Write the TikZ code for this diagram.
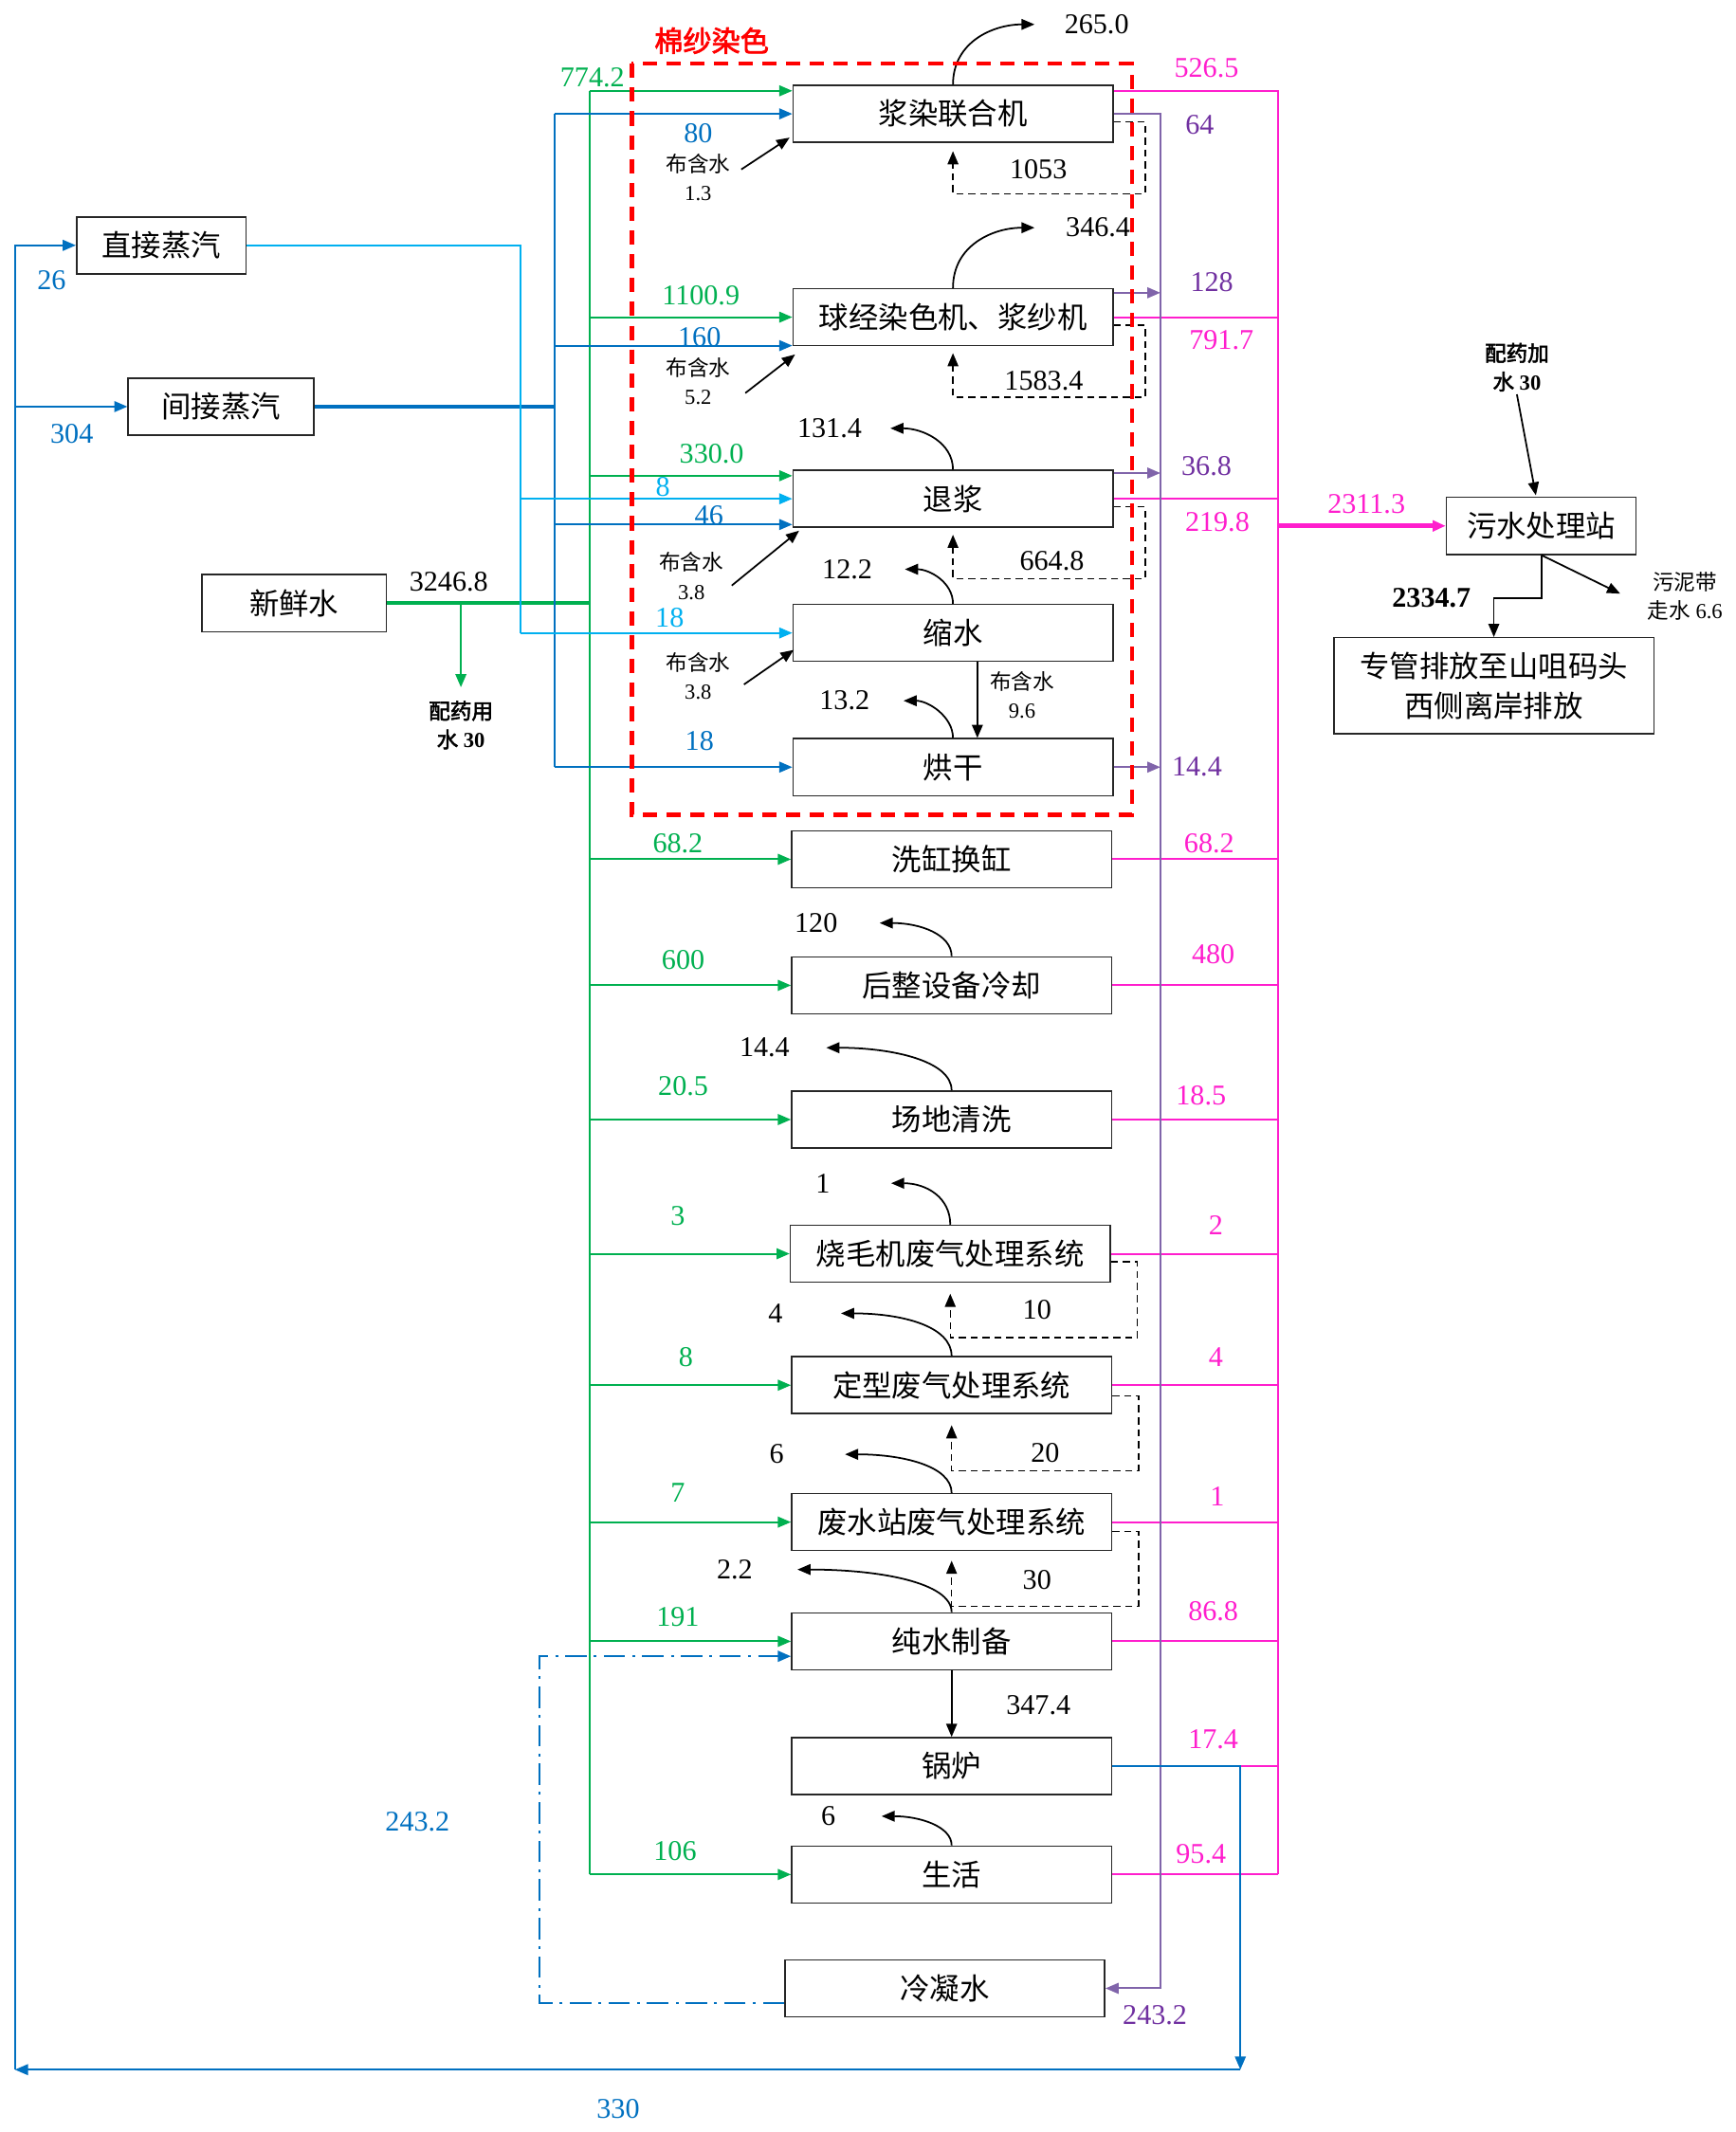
\documentclass[tikz,border=0pt]{standalone}
\usepackage{fontspec}
\setmainfont{Liberation Serif}
\newfontfamily\cjk[AutoFakeBold=2.5]{Noto Sans CJK SC}
\usetikzlibrary{arrows.meta,calc}
\definecolor{cGreen}{RGB}{0,176,80}
\definecolor{cBlue}{RGB}{0,112,192}
\definecolor{cCyan}{RGB}{0,176,240}
\definecolor{cPink}{RGB}{255,30,205}
\definecolor{cPurple}{RGB}{128,100,170}
\definecolor{cPurTxt}{RGB}{112,48,160}

\begin{document}
\begin{tikzpicture}[x=0.02cm,y=-0.02cm,
    >={Triangle[length=5.5pt,width=4.5pt]},
    box/.style={draw=black!85,line width=0.6pt,minimum width=4.72cm,minimum height=0.84cm,
        inner sep=0pt,font=\cjk\fontsize{12.5}{16.5}\selectfont},
    num/.style={font=\fontsize{12}{14}\selectfont,inner sep=1pt},
    note/.style={font=\fontsize{9}{12}\selectfont,align=center,inner sep=1pt},
    bld/.style={font=\bfseries\fontsize{9}{12}\selectfont,align=center,inner sep=1pt},
    gline/.style={draw=cGreen,line width=0.8pt},
    bline/.style={draw=cBlue,line width=0.8pt},
    cline/.style={draw=cCyan,line width=0.8pt},
    pline/.style={draw=cPurple,line width=0.8pt},
    mline/.style={draw=cPink,line width=0.8pt},
    back/.style={draw=black,line width=0.6pt,dash pattern=on 3pt off 2pt},
    steam/.style={draw=black,line width=0.7pt},
    dd/.style={draw=cBlue,line width=1pt,dash pattern=on 9pt off 3pt on 1.2pt off 3pt},
]
\useasboundingbox (0,0) rectangle (1280,1573);

% boxes
\node[box] (jr) at (703,84) {浆染联合机};
\node[box] (qj) at (703,234) {球经染色机、浆纱机};
\node[box] (tj) at (703,368) {退浆};
\node[box] (ss) at (703,467) {缩水};
\node[box] (hg) at (703,566) {烘干};
\node[box] (xg) at (702,634) {洗缸换缸};
\node[box] (hz) at (702,727) {后整设备冷却};
\node[box] (cd) at (702,826) {场地清洗};
\node[box] (sm) at (701,925) {烧毛机废气处理系统};
\node[box] (dx) at (702,1022) {定型废气处理系统};
\node[box] (fs) at (702,1123) {废水站废气处理系统};
\node[box] (cs) at (702,1211) {纯水制备};
\node[box] (gl) at (702,1303) {锅炉};
\node[box] (sh) at (702,1383) {生活};
\node[box] (nn) at (697,1467) {冷凝水};
\node[box,minimum width=2.5cm] (zz) at (119,181) {直接蒸汽};
\node[box,minimum width=2.74cm] (jz) at (163,300) {间接蒸汽};
\node[box,minimum width=2.72cm] (xx) at (217,445) {新鲜水};
\node[box,minimum width=2.8cm] (ws) at (1137,388) {污水处理站};
\node[box,minimum height=1.42cm,align=center] (pf) at (1102,506) {专管排放至山咀码头\\西侧离岸排放};

% trunks
\coordinate (gx) at (435,0);
\coordinate (bx) at (409,0);
\coordinate (cx) at (384,0);
\coordinate (px) at (856,0);
\coordinate (mx) at (943,0);
\coordinate (lb) at (11,1527);
\coordinate (rb) at (915,1527);

% fresh water (green)
\coordinate (jrg) at ($(jr.west)+(0,-17)$);
\coordinate (tjg) at ($(tj.west)+(0,-17)$);
\draw[gline,line width=1.6pt] (xx.east) -- (gx |- xx);
\draw[gline] (gx |- jrg) -- (gx |- sh);
\draw[gline,->] (gx |- jrg) -- (jrg);
\draw[gline,->] (gx |- qj) -- (qj.west);
\draw[gline,->] (gx |- tjg) -- (tjg);
\draw[gline,->] (gx |- xg) -- (xg.west);
\draw[gline,->] (gx |- hz) -- (hz.west);
\draw[gline,->] (gx |- cd) -- (cd.west);
\draw[gline,->] (gx |- sm) -- (sm.west);
\draw[gline,->] (gx |- dx) -- (dx.west);
\draw[gline,->] (gx |- fs) -- (fs.west);
\draw[gline,->] (gx |- cs) -- (cs.west);
\draw[gline,->] (gx |- sh) -- (sh.west);
\node[bld] (py) at (340,535) {{\cjk 配药用}\\{\cjk 水} 30};
\draw[gline,->] (py.north |- xx.east) -- ($(py.north)+(0,-8)$);
\node[num] (fw) at (331,429) {3246.8};

% indirect steam (blue)
\coordinate (qjb) at ($(qj.west)+(0,21)$);
\coordinate (tjb) at ($(tj.west)+(0,19)$);
\draw[bline,line width=1.3pt] (jz.east) -- (bx |- jz);
\draw[bline] (bx |- jr) -- (bx |- hg);
\draw[bline,->] (bx |- jr) -- (jr.west);
\draw[bline,->] (bx |- qjb) -- (qjb);
\draw[bline,->] (bx |- tjb) -- (tjb);
\draw[bline,->] (bx |- hg) -- (hg.west);

% direct steam (cyan)
\draw[cline] (zz.east) -| (cx |- ss);
\draw[cline,->] (cx |- tj) -- (tj.west);
\draw[cline,->] (cx |- ss) -- (ss.west);

% waste water (pink)
\coordinate (jrm) at ($(jr.east)+(0,-17)$);
\draw[mline] (jrm) -- (mx |- jrm) -- (mx |- sh);
\draw[mline] (qj.east) -- (mx |- qj);
\draw[mline] (tj.east) -- (mx |- tj);
\draw[mline] (xg.east) -- (mx |- xg);
\draw[mline] (hz.east) -- (mx |- hz);
\draw[mline] (cd.east) -- (mx |- cd);
\draw[mline] (sm.east) -- (mx |- sm);
\draw[mline] (dx.east) -- (mx |- dx);
\draw[mline] (fs.east) -- (mx |- fs);
\draw[mline] (cs.east) -- (mx |- cs);
\draw[mline] (gl.east) -- (mx |- gl);
\draw[mline] (sh.east) -- (mx |- sh);
\draw[mline,line width=1.8pt,->] (mx |- ws) -- (ws.west);

% condensate (purple)
\coordinate (qjp) at ($(qj.east)+(0,-18)$);
\coordinate (tjp) at ($(tj.east)+(0,-19)$);
\draw[pline,->] (jr.east) -| (px |- nn) -- (nn.east);
\draw[pline,->] (qjp) -- (px |- qjp);
\draw[pline,->] (tjp) -- (px |- tjp);
\draw[pline,->] (hg.east) -- (px |- hg);

% boiler steam loop
\draw[bline,->] (gl.east) -| (rb);
\draw[bline,->] (rb) -- (lb);
\draw[bline,->] (lb) |- (zz.west);
\draw[bline,->] (lb |- jz) -- (jz.west);
\draw[dd,->] ($(nn.west)+(0,11)$) -| (398,1222) -- ($(cs.west)+(0,11)$);

% recycled water
\draw[back,->] ($(jr.east)+(0,6)$) -| (845,143) -| ($(jr.south)+(0,6)$);
\draw[back,->] ($(qj.east)+(0,6)$) -| (845,293) -| ($(qj.south)+(0,5)$);
\draw[back,->] ($(tj.east)+(0,6)$) -| (845,427) -| ($(tj.south)+(0,5)$);
\draw[back,->] ($(sm.east)+(0,6)$) -| (839,987) -| ($(sm.south)+(0,8)$);
\draw[back,->] ($(dx.east)+(0,8)$) -| (840,1085) -| ($(dx.south)+(0,8)$);
\draw[back,->] ($(fs.east)+(0,7)$) -| (840,1185) -| ($(fs.south)+(0,7)$);
\node[num] (r1) at (766,125) {1053};
\node[num] (r2) at (770,281) {1583.4};
\node[num] (r3) at (776,414) {664.8};
\node[num] (r4) at (765,966) {10};
\node[num] (r5) at (771,1072) {20};
\node[num] (r6) at (765,1166) {30};

% evaporation
\node[num] (e1) at (809,18) {265.0};
\node[num] (e2) at (810,168) {346.4};
\node[num] (e3) at (612,316) {131.4};
\node[num] (e4) at (625,420) {12.2};
\node[num] (e5) at (623,517) {13.2};
\node[num] (e6) at (602,681) {120};
\node[num] (e7) at (564,773) {14.4};
\node[num] (e8) at (607,873) {1};
\node[num] (e9) at (572,969) {4};
\node[num] (e10) at (573,1073) {6};
\node[num] (e11) at (542,1158) {2.2};
\node[num] (e12) at (611,1340) {6};
\draw[steam,->] (jr.north) .. controls +(0,-32) and +(-30,0) .. ($(e1.west)+(-20,0)$);
\draw[steam,->] (qj.north) .. controls +(0,-32) and +(-30,0) .. ($(e2.west)+(-21,0)$);
\draw[steam,->] (tj.north) .. controls +(0,-20) and +(24,0) .. ($(e3.east)+(19,0)$);
\draw[steam,->] (ss.north) .. controls +(0,-16) and +(18,0) .. ($(e4.east)+(22,0)$);
\draw[steam,->] (hg.north) .. controls +(0,-16) and +(18,0) .. ($(e5.east)+(23,0)$);
\draw[steam,->] (hz.north) .. controls +(0,-16) and +(30,0) .. ($(e6.east)+(29,0)$);
\draw[steam,->] (cd.north) .. controls +(0,-22) and +(48,0) .. ($(e7.east)+(25,0)$);
\draw[steam,->] (sm.north) .. controls +(0,-20) and +(26,0) .. ($(e8.east)+(43,0)$);
\draw[steam,->] (dx.north) .. controls +(0,-22) and +(45,0) .. ($(e9.east)+(41,0)$);
\draw[steam,->] (fs.north) .. controls +(0,-20) and +(42,0) .. ($(e10.east)+(43,0)$);
\draw[steam,->] (cs.north) .. controls +(0,-22) and +(60,0) .. ($(e11.east)+(31,0)$);
\draw[steam,->] (sh.north) .. controls +(0,-14) and +(28,0) .. ($(e12.east)+(32,0)$);

% cloth water
\node[note] (b1) at (515,131) {{\cjk 布含水}\\1.3};
\node[note] (b2) at (515,281) {{\cjk 布含水}\\5.2};
\node[note] (b3) at (510,425) {{\cjk 布含水}\\3.8};
\node[note] (b4) at (515,499) {{\cjk 布含水}\\3.8};
\node[note] (b5) at (754,513) {{\cjk 布含水}\\9.6};
\draw[steam,->] ($(b1.east)+(6,-6)$) -- ($(jr.south west)+(-2,-4)$);
\draw[steam,->] ($(b2.east)+(9,9)$) -- ($(qj.south west)+(2,6)$);
\draw[steam,->] ($(b3.east)+(4,7)$) -- ($(tj.south west)+(5,2)$);
\draw[steam,->] ($(b4.east)+(8,6)$) -- ($(ss.south west)+(1,-9)$);
\draw[steam,->] ($(ss.south)+(18,0)$) -- ($(hg.north)+(18,0)$);
\draw[steam,->] (cs.south) -- (gl.north);
\node[num] (cb) at (766,1258) {347.4};

% treatment station
\node[bld] (pj) at (1119,271) {{\cjk 配药加}\\{\cjk 水} 30};
\draw[steam,->] (pj.south) -- ($(ws.north)+(-4,-1)$);
\draw[steam,->] (ws.south) -- ++(0,32) -| (pf.north);
\node[note] (wn) at (1243,440) {{\cjk 污泥带}\\{\cjk 走水} 6.6};
\draw[steam,->] (ws.south) -- ($(wn.west)+(-18,-2)$);
\node[num,font=\bfseries\fontsize{12}{14}\selectfont] (dc) at (1056,441) {2334.7};
\node[num,text=cPink] (wi) at (1008,372) {2311.3};

% dyeing section frame
\draw[draw=red,line width=1.8pt,dash pattern=on 6pt off 4pt] (466,47) rectangle (835,601);
\node[num,text=red,font=\cjk\bfseries\fontsize{12}{14}\selectfont] (ms) at (525,30) {棉纱染色};

% green labels
\node[num,text=cGreen] (g1) at (437,57) {774.2};
\node[num,text=cGreen] (g2) at (517,218) {1100.9};
\node[num,text=cGreen] (g3) at (525,335) {330.0};
\node[num,text=cGreen] (g4) at (500,622) {68.2};
\node[num,text=cGreen] (g5) at (504,708) {600};
\node[num,text=cGreen] (g6) at (504,801) {20.5};
\node[num,text=cGreen] (g7) at (500,897) {3};
\node[num,text=cGreen] (g8) at (506,1001) {8};
\node[num,text=cGreen] (g9) at (500,1101) {7};
\node[num,text=cGreen] (g10) at (500,1193) {191};
\node[num,text=cGreen] (g11) at (498,1366) {106};

% steam labels
\node[num,text=cBlue] (s1) at (515,98) {80};
\node[num,text=cBlue] (s2) at (516,249) {160};
\node[num,text=cCyan] (s3) at (489,359) {8};
\node[num,text=cBlue] (s4) at (523,380) {46};
\node[num,text=cCyan] (s5) at (494,456) {18};
\node[num,text=cBlue] (s6) at (516,547) {18};
\node[num,text=cBlue] (s7) at (38,207) {26};
\node[num,text=cBlue] (s8) at (53,320) {304};
\node[num,text=cBlue] (s9) at (456,1556) {330};
\node[num,text=cBlue] (s10) at (308,1344) {243.2};

% purple labels
\node[num,text=cPurTxt] (p1) at (885,92) {64};
\node[num,text=cPurTxt] (p2) at (894,208) {128};
\node[num,text=cPurTxt] (p3) at (890,344) {36.8};
\node[num,text=cPurTxt] (p4) at (883,566) {14.4};
\node[num,text=cPurTxt] (p5) at (852,1487) {243.2};

% pink labels
\node[num,text=cPink] (m1) at (890,50) {526.5};
\node[num,text=cPink] (m2) at (901,251) {791.7};
\node[num,text=cPink] (m3) at (898,385) {219.8};
\node[num,text=cPink] (m4) at (892,622) {68.2};
\node[num,text=cPink] (m5) at (895,704) {480};
\node[num,text=cPink] (m6) at (886,808) {18.5};
\node[num,text=cPink] (m7) at (897,904) {2};
\node[num,text=cPink] (m8) at (897,1001) {4};
\node[num,text=cPink] (m9) at (898,1104) {1};
\node[num,text=cPink] (m10) at (895,1189) {86.8};
\node[num,text=cPink] (m11) at (895,1283) {17.4};
\node[num,text=cPink] (m12) at (886,1368) {95.4};
\end{tikzpicture}
\end{document}
